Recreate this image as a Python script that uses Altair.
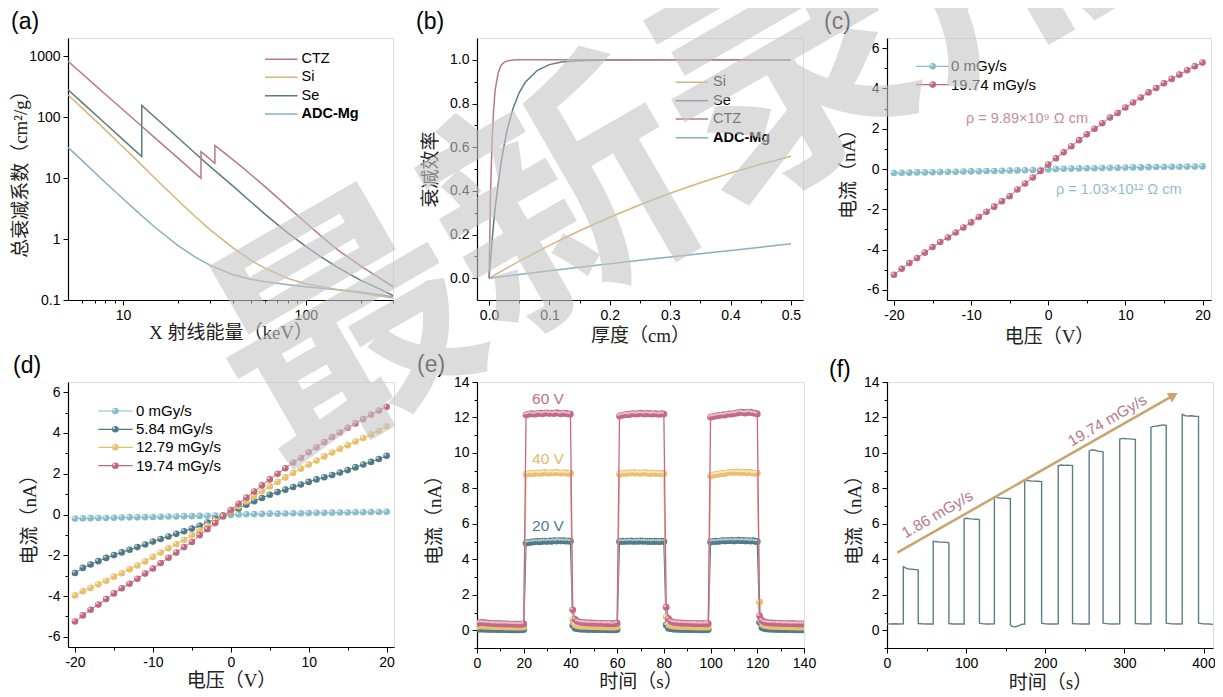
import altair as alt
import pandas as pd

# ---------------- data ----------------
# (a) total attenuation coefficient (cm2/g) vs X-ray energy (keV)
CTZ_E = [5, 6, 7, 8, 10, 12, 15, 20, 26.7, 26.7, 28, 30, 31.8, 31.8, 35, 40, 45, 50, 60, 70, 80, 90, 100, 120, 150, 200, 250, 300]
CTZ_MU = [827, 512, 340, 239, 133, 82, 45.5, 21.3, 9.9, 27.4, 24.3, 20.4, 17.6, 34.4, 27.5, 20, 15, 11.5, 7.2, 4.8, 3.35, 2.45, 1.85, 1.15, 0.66, 0.36, 0.235, 0.165]
SE_E = [5, 6, 8, 10, 12.66, 12.66, 15, 20, 25, 30, 40, 50, 60, 80, 100, 120, 150, 200, 250, 300]
SE_MU = [283, 172, 79, 43, 22.7, 156, 99, 46, 25.2, 15.5, 7.4, 4.1, 2.55, 1.25, 0.76, 0.52, 0.34, 0.21, 0.155, 0.118]
SI_E = [5, 6, 8, 10, 12, 15, 20, 25, 30, 40, 50, 60, 80, 100, 150, 200, 300]
SI_MU = [234, 140, 62, 32.5, 19.2, 9.9, 4.3, 2.3, 1.42, 0.72, 0.45, 0.33, 0.225, 0.185, 0.148, 0.13, 0.108]
ADC_E = [5, 6, 8, 10, 12, 15, 20, 25, 30, 40, 50, 60, 80, 100, 150, 200, 300]
ADC_MU = [32, 19.2, 8.5, 4.6, 2.8, 1.55, 0.78, 0.5, 0.37, 0.26, 0.22, 0.2, 0.178, 0.165, 0.148, 0.135, 0.113]

# (b) attenuation efficiency vs thickness (cm)
B_X1 = [0, 0.0025, 0.005, 0.0075, 0.01, 0.015, 0.02, 0.025, 0.03, 0.04, 0.05, 0.06, 0.08, 0.1, 0.12, 0.15, 0.2, 0.3, 0.4, 0.5]
CTZ_B = [0, 0.4, 0.63, 0.77, 0.86, 0.94, 0.975, 0.988, 0.995, 0.999, 1, 1, 1, 1, 1, 1, 1, 1, 1, 1]
SE_B = [0, 0.09, 0.17, 0.25, 0.32, 0.43, 0.53, 0.61, 0.68, 0.78, 0.85, 0.898, 0.952, 0.978, 0.99, 0.996, 0.999, 1, 1, 1]
B_X2 = [0, 0.05, 0.1, 0.15, 0.2, 0.25, 0.3, 0.35, 0.4, 0.45, 0.5]
SI_B = [0, 0.078, 0.15, 0.217, 0.279, 0.336, 0.389, 0.437, 0.482, 0.522, 0.558]
ADC_B = [0, 0.017, 0.034, 0.05, 0.066, 0.082, 0.097, 0.112, 0.127, 0.142, 0.158]

# (c)/(d) I-V curves
V = [-20, -19, -18, -17, -16, -15, -14, -13, -12, -11, -10, -9, -8, -7, -6, -5, -4, -3, -2, -1, 0,
     1, 2, 3, 4, 5, 6, 7, 8, 9, 10, 11, 12, 13, 14, 15, 16, 17, 18, 19, 20]
I_0 = [-0.20, -0.19, -0.18, -0.17, -0.17, -0.16, -0.15, -0.14, -0.14, -0.13, -0.12, -0.11, -0.10, -0.10, -0.09, -0.08, -0.07, -0.06, -0.05, -0.04, -0.02,
       0.00, 0.01, 0.02, 0.03, 0.04, 0.04, 0.05, 0.06, 0.06, 0.07, 0.08, 0.08, 0.09, 0.10, 0.10, 0.11, 0.11, 0.12, 0.12, 0.13]
I_584 = [-2.87, -2.62, -2.45, -2.29, -2.13, -1.99, -1.86, -1.73, -1.60, -1.47, -1.33, -1.20, -1.08, -0.95, -0.82, -0.69, -0.55, -0.39, -0.22, -0.05, 0.12,
         0.30, 0.48, 0.65, 0.81, 0.97, 1.10, 1.22, 1.35, 1.47, 1.60, 1.72, 1.83, 1.94, 2.06, 2.18, 2.31, 2.45, 2.58, 2.72, 2.88]
I_1279 = [-3.97, -3.76, -3.60, -3.42, -3.25, -3.05, -2.88, -2.68, -2.50, -2.30, -2.08, -1.87, -1.66, -1.45, -1.24, -1.01, -0.78, -0.55, -0.32, -0.08, 0.15,
          0.40, 0.65, 0.90, 1.14, 1.38, 1.60, 1.82, 2.04, 2.25, 2.45, 2.65, 2.85, 3.04, 3.22, 3.40, 3.58, 3.75, 3.93, 4.11, 4.33]
I_1974 = [-5.25, -4.95, -4.67, -4.42, -4.15, -3.87, -3.62, -3.40, -3.15, -2.90, -2.65, -2.38, -2.12, -1.87, -1.60, -1.35, -1.02, -0.72, -0.42, -0.10, 0.22,
          0.53, 0.83, 1.13, 1.43, 1.72, 2.00, 2.27, 2.55, 2.78, 3.05, 3.30, 3.55, 3.80, 4.02, 4.25, 4.47, 4.68, 4.90, 5.10, 5.28]

# (e) on/off response at 20, 40, 60 V (1 s sampling)
E_T = list(range(141))
E_60 = [0.40, 0.42, 0.44, 0.43, 0.41, 0.40, 0.39, 0.38, 0.38, 0.37, 0.37, 0.36, 0.36, 0.36, 0.35, 0.35, 0.35, 0.34, 0.34, 0.34, 0.36,
        12.15, 12.18, 12.22, 12.20, 12.19, 12.23, 12.25, 12.21, 12.24, 12.26, 12.23, 12.25, 12.22, 12.27, 12.24, 12.21, 12.25, 12.23, 12.20, 12.19,
        1.15, 0.62, 0.50, 0.46, 0.44, 0.43, 0.42, 0.41, 0.41, 0.40, 0.40, 0.39, 0.39, 0.39, 0.38, 0.38, 0.38, 0.37, 0.37, 0.40,
        12.08, 12.12, 12.15, 12.18, 12.16, 12.20, 12.22, 12.19, 12.21, 12.24, 12.22, 12.20, 12.23, 12.21, 12.19, 12.22, 12.20, 12.18, 12.21, 12.19,
        1.30, 0.65, 0.50, 0.45, 0.43, 0.42, 0.41, 0.40, 0.40, 0.39, 0.39, 0.38, 0.38, 0.38, 0.37, 0.37, 0.37, 0.36, 0.38,
        12.02, 12.05, 12.08, 12.10, 12.12, 12.15, 12.14, 12.18, 12.20, 12.19, 12.22, 12.24, 12.27, 12.30, 12.28, 12.25, 12.28, 12.30, 12.26, 12.24, 12.20,
        0.80, 0.55, 0.47, 0.44, 0.42, 0.41, 0.40, 0.40, 0.39, 0.39, 0.38, 0.38, 0.38, 0.37, 0.37, 0.37, 0.36, 0.36, 0.36, 0.36]
E_40 = [0.22, 0.24, 0.25, 0.24, 0.23, 0.22, 0.22, 0.21, 0.21, 0.20, 0.20, 0.20, 0.19, 0.19, 0.19, 0.19, 0.18, 0.18, 0.18, 0.18, 0.19,
        8.80, 8.82, 8.85, 8.84, 8.86, 8.88, 8.85, 8.87, 8.90, 8.88, 8.86, 8.89, 8.87, 8.90, 8.88, 8.86, 8.89, 8.87, 8.85, 8.86,
        0.60, 0.32, 0.26, 0.24, 0.23, 0.22, 0.22, 0.21, 0.21, 0.20, 0.20, 0.20, 0.19, 0.19, 0.19, 0.19, 0.18, 0.18, 0.18, 0.20,
        8.80, 8.84, 8.86, 8.85, 8.88, 8.87, 8.90, 8.86, 8.88, 8.85, 8.87, 8.89, 8.86, 8.84, 8.87, 8.85, 8.86, 8.84, 8.85, 8.83,
        0.75, 0.35, 0.27, 0.24, 0.23, 0.22, 0.21, 0.21, 0.20, 0.20, 0.20, 0.19, 0.19, 0.19, 0.18, 0.18, 0.18, 0.18, 0.19,
        8.72, 8.75, 8.78, 8.80, 8.82, 8.85, 8.84, 8.88, 8.90, 8.92, 8.90, 8.93, 8.91, 8.89, 8.92, 8.90, 8.88, 8.90, 8.87, 8.85, 8.86,
        1.60, 0.45, 0.30, 0.26, 0.24, 0.23, 0.22, 0.22, 0.21, 0.21, 0.20, 0.20, 0.20, 0.19, 0.19, 0.19, 0.18, 0.18, 0.18, 0.18]
E_20 = [0.06, 0.07, 0.07, 0.06, 0.06, 0.05, 0.05, 0.05, 0.05, 0.04, 0.04, 0.04, 0.04, 0.04, 0.03, 0.03, 0.03, 0.03, 0.03, 0.03, 0.04,
        4.92, 4.95, 4.97, 4.98, 5.00, 5.01, 4.99, 5.02, 5.03, 5.01, 5.04, 5.02, 5.05, 5.03, 5.06, 5.04, 5.05, 5.03, 5.04, 5.02,
        0.28, 0.12, 0.09, 0.07, 0.06, 0.06, 0.05, 0.05, 0.05, 0.05, 0.04, 0.04, 0.04, 0.04, 0.04, 0.03, 0.03, 0.03, 0.03, 0.04,
        5.00, 5.02, 5.01, 5.03, 5.02, 5.04, 5.01, 5.03, 5.02, 5.04, 5.02, 5.03, 5.01, 5.02, 5.00, 5.02, 5.01, 5.00, 5.02, 5.01,
        0.30, 0.12, 0.09, 0.07, 0.06, 0.06, 0.05, 0.05, 0.05, 0.04, 0.04, 0.04, 0.04, 0.04, 0.03, 0.03, 0.03, 0.03, 0.04,
        4.98, 5.00, 5.02, 5.01, 5.03, 5.05, 5.04, 5.06, 5.05, 5.07, 5.04, 5.06, 5.08, 5.05, 5.07, 5.04, 5.06, 5.03, 5.05, 5.02, 5.00,
        0.45, 0.15, 0.10, 0.08, 0.07, 0.06, 0.06, 0.05, 0.05, 0.05, 0.04, 0.04, 0.04, 0.04, 0.04, 0.03, 0.03, 0.03, 0.03, 0.03]

# (f) response to increasing dose rate
F_T = [0, 5, 10, 15, 20.6,
       20.6, 24, 28, 32, 36, 39.5,
       39.5, 45, 50, 55, 58.4,
       58.4, 62, 66, 70, 74, 78.2,
       78.2, 84, 90, 97.5,
       97.5, 101, 105, 109, 113, 116.8,
       116.8, 122, 128, 135.7,
       135.7, 139, 143, 147, 151, 155.9,
       155.9, 158, 162, 166, 170, 174,
       174, 178, 182, 186, 190, 195.4,
       195.4, 200, 206, 212, 216.4,
       216.4, 220, 224, 228, 232, 234.5,
       234.5, 240, 246, 250, 255.5,
       255.5, 259, 263, 267, 271, 273.1,
       273.1, 280, 287, 294.1,
       294.1, 298, 302, 306, 310, 313.9,
       313.9, 320, 327, 333.6,
       333.6, 337, 341, 345, 349, 352.9,
       352.9, 360, 367, 373.1,
       373.1, 377, 381, 385, 389, 393.7,
       393.7, 400, 407, 412]
F_I = [0.36, 0.35, 0.37, 0.35, 0.36,
       3.58, 3.50, 3.45, 3.44, 3.42, 3.40,
       0.38, 0.36, 0.35, 0.36, 0.35,
       5.02, 5.00, 4.98, 4.97, 4.96, 4.93,
       0.38, 0.35, 0.36, 0.35,
       6.30, 6.32, 6.28, 6.27, 6.26, 6.24,
       0.40, 0.36, 0.35, 0.36,
       7.52, 7.48, 7.46, 7.45, 7.44, 7.42,
       0.30, 0.22, 0.20, 0.25, 0.33, 0.35,
       8.45, 8.44, 8.42, 8.41, 8.40, 8.38,
       0.40, 0.36, 0.35, 0.35, 0.36,
       9.28, 9.32, 9.30, 9.31, 9.30, 9.28,
       0.38, 0.36, 0.35, 0.36, 0.35,
       10.10, 10.18, 10.15, 10.10, 10.08, 10.05,
       0.40, 0.36, 0.35, 0.36,
       10.78, 10.82, 10.80, 10.79, 10.78, 10.76,
       0.38, 0.36, 0.35, 0.36,
       11.45, 11.50, 11.52, 11.55, 11.58, 11.55,
       0.40, 0.36, 0.35, 0.36,
       12.18, 12.10, 12.08, 12.10, 12.07, 12.06,
       0.40, 0.36, 0.35, 0.33]

# ---------------- style ----------------
SANS = "Liberation Sans"
TFONT = "Liberation Serif, Noto Sans CJK SC"
CJK = "Noto Sans CJK SC"

C_CTZ, C_SI, C_SE, C_ADC = "#b67a8a", "#d6b57c", "#5b7b86", "#88b0bf"
C_0, C_584, C_1279, C_1974 = "#86bccb", "#4e7a87", "#e9bf6b", "#c2667f"

ONE = pd.DataFrame({"k": [0]})


def table(xs, ys):
    return pd.DataFrame({"x": xs, "y": ys, "i": list(range(len(xs)))})


AX = dict(grid=False, domainColor="#000", domainWidth=1.2, tickColor="#000", tickWidth=1,
          labelFont=SANS, labelFontSize=14, labelColor="#000", labelPadding=3,
          labelFlush=False, labelOverlap=False, titleFont=TFONT, titleFontSize=19,
          titleFontWeight="normal", titleColor="#222", minExtent=0, maxExtent=0)


def axis(values, major, label, title, tpad):
    return alt.Axis(values=values, labelExpr=f"({major}) ? {label} : ''",
                    tickSize={"condition": {"test": major, "value": 5}, "value": 3},
                    title=title, titlePadding=tpad, **AX)


def line(d, X, Y, color, w=1.5):
    return alt.Chart(d).mark_line(color=color, strokeWidth=w, clip=True).encode(x=X, y=Y, order="i:Q")


def dots(d, X, Y, color, size=44):
    base = alt.Chart(d).mark_circle(color=color, size=size, opacity=1, clip=True).encode(x=X, y=Y)
    hi = alt.Chart(d).mark_circle(color="white", size=6, opacity=0.6, xOffset=-1.3, yOffset=-1.3,
                                  clip=True).encode(x=X, y=Y)
    return [base, hi]


def vtext(x, y, s, color="#000", size=14, align="left", baseline="middle", angle=0,
          weight="normal", font=SANS, opacity=1):
    return alt.Chart(ONE).mark_text(text=s, color=color, fontSize=size, align=align, baseline=baseline,
                                    angle=angle, fontWeight=weight, font=font, opacity=opacity
                                    ).encode(x=alt.value(x), y=alt.value(y))


def vrule(x1, y1, x2, y2, color, w=1.5):
    return alt.Chart(ONE).mark_rule(color=color, strokeWidth=w).encode(
        x=alt.value(x1), y=alt.value(y1), x2=alt.value(x2), y2=alt.value(y2))


def vpoint(x, y, color, size, shape="circle", angle=0, opacity=1):
    return alt.Chart(ONE).mark_point(filled=True, shape=shape, size=size, angle=angle, color=color,
                                     opacity=opacity, strokeWidth=0).encode(x=alt.value(x), y=alt.value(y))


def line_legend(rows, x1, x2, xt, names, colors, bold=None, size=14.5):
    out = []
    for y, n, c in zip(rows, names, colors):
        out.append(vrule(x1, y, x2, y, c))
        out.append(vtext(xt, y, n, size=size, weight="bold" if n == bold else "normal"))
    return out


def dot_legend(rows, x1, x2, xc, xt, names, colors, size=15):
    out = []
    for y, n, c in zip(rows, names, colors):
        out.append(vrule(x1, y, x2, y, c, 1.2))
        out.append(vpoint(xc, y, c, 44))
        out.append(vpoint(xc - 1.3, y - 1.3, "white", 6, opacity=0.6))
        out.append(vtext(xt, y, n, size=size))
    return out


def panel_label(x, y, s):
    return vtext(x, y, s, size=23, baseline="alphabetic")


# ---------------- (a) ----------------
XA = alt.X("x:Q", scale=alt.Scale(type="log", domain=[5, 300], nice=False),
           axis=axis([6, 7, 8, 9, 10, 20, 30, 40, 50, 60, 70, 80, 90, 100, 200, 300],
                     "datum.value == 10 || datum.value == 100", "'' + datum.value",
                     "X 射线能量（keV）", 23))
YA = alt.Y("y:Q", scale=alt.Scale(type="log", domain=[0.1, 2000], nice=False),
           axis=axis([0.1, 1, 10, 100, 1000], "true", "'' + datum.value", "总衰减系数（cm²/g）", 38))
pa = alt.layer(
    line(table(ADC_E, ADC_MU), XA, YA, C_ADC),
    line(table(SI_E, SI_MU), XA, YA, C_SI),
    line(table(SE_E, SE_MU), XA, YA, C_SE),
    line(table(CTZ_E, CTZ_MU), XA, YA, C_CTZ),
    *line_legend([21.3, 39.3, 57.7, 76], 197, 229.5, 233.5, ["CTZ", "Si", "Se", "ADC-Mg"],
                 [C_CTZ, C_SI, C_SE, C_ADC], bold="ADC-Mg"),
    panel_label(-57, -9, "(a)"),
).properties(width=325, height=262)

# ---------------- (b) ----------------
XB = alt.X("x:Q", scale=alt.Scale(domain=[-0.02, 0.52], nice=False, zero=False),
           axis=axis([0, 0.05, 0.1, 0.15, 0.2, 0.25, 0.3, 0.35, 0.4, 0.45, 0.5],
                     "round(datum.value * 100) % 10 == 0", "format(datum.value, '.1f')", "厚度（cm）", 26))
YB = alt.Y("y:Q", scale=alt.Scale(domain=[-0.1, 1.1], nice=False, zero=False),
           axis=axis([0, 0.1, 0.2, 0.3, 0.4, 0.5, 0.6, 0.7, 0.8, 0.9, 1.0],
                     "round(datum.value * 10) % 2 == 0", "format(datum.value, '.1f')", "衰减效率", 37))
pb = alt.layer(
    line(table(B_X2, SI_B), XB, YB, C_SI),
    line(table(B_X2, ADC_B), XB, YB, C_ADC),
    line(table(B_X1, SE_B), XB, YB, C_SE),
    line(table(B_X1, CTZ_B), XB, YB, C_CTZ),
    *line_legend([44.3, 62.7, 81, 99.7], 198.7, 231, 236, ["Si", "Se", "CTZ", "ADC-Mg"],
                 [C_SI, C_SE, C_CTZ, C_ADC], bold="ADC-Mg"),
    panel_label(-61, -9, "(b)"),
).properties(width=326, height=262)

# ---------------- (c) ----------------
XC = alt.X("x:Q", scale=alt.Scale(domain=[-20.9, 21.1], nice=False, zero=False),
           axis=axis([-20, -15, -10, -5, 0, 5, 10, 15, 20], "datum.value % 10 == 0", "'' + datum.value",
                     "电压（V）", 27))
YC = alt.Y("y:Q", scale=alt.Scale(domain=[-6.5, 6.5], nice=False, zero=False),
           axis=axis([-6, -5, -4, -3, -2, -1, 0, 1, 2, 3, 4, 5, 6], "datum.value % 2 == 0", "'' + datum.value",
                     "电流（nA）", 29))
dc0, dc1 = table(V, I_0), table(V, I_1974)
pc = alt.layer(
    line(dc0, XC, YC, C_0, 1), *dots(dc0, XC, YC, C_0),
    line(dc1, XC, YC, C_1974, 1), *dots(dc1, XC, YC, C_1974),
    *dot_legend([28.3, 46.6], 29, 61.7, 45.7, 64, ["0 mGy/s", "19.74 mGy/s"], [C_0, C_1974]),
    vtext(79, 81, "ρ = 9.89×10⁹ Ω cm", color="#c48d9c", size=14.5),
    vtext(169, 152, "ρ = 1.03×10¹² Ω cm", color="#94bccb", size=14.5),
    panel_label(-63, -9, "(c)"),
).properties(width=324, height=262)

# ---------------- (d) ----------------
XD = alt.X("x:Q", scale=alt.Scale(domain=[-20.9, 20.95], nice=False, zero=False),
           axis=axis([-20, -15, -10, -5, 0, 5, 10, 15, 20], "datum.value % 10 == 0", "'' + datum.value",
                     "电压（V）", 24))
YD = alt.Y("y:Q", scale=alt.Scale(domain=[-6.5, 6.5], nice=False, zero=False),
           axis=axis([-6, -5, -4, -3, -2, -1, 0, 1, 2, 3, 4, 5, 6], "datum.value % 2 == 0", "'' + datum.value",
                     "电流（nA）", 28.5))
dd = [(table(V, I_0), C_0), (table(V, I_584), C_584), (table(V, I_1279), C_1279), (table(V, I_1974), C_1974)]
layers_d = []
for d_, c_ in dd:
    layers_d.append(line(d_, XD, YD, c_, 1))
    layers_d.extend(dots(d_, XD, YD, c_))
pd_ = alt.layer(
    *layers_d,
    *dot_legend([29, 47.3, 65.3, 83.7], 30.3, 64.7, 47.3, 68,
                ["0 mGy/s", "5.84 mGy/s", "12.79 mGy/s", "19.74 mGy/s"], [C_0, C_584, C_1279, C_1974]),
    panel_label(-55, -9, "(d)"),
).properties(width=326, height=265)

# ---------------- (e) ----------------
XE = alt.X("x:Q", scale=alt.Scale(domain=[0, 140], nice=False, zero=False),
           axis=axis(list(range(0, 141, 10)), "datum.value % 20 == 0", "'' + datum.value", "时间（s）", 24))
YE = alt.Y("y:Q", scale=alt.Scale(domain=[-1, 14], nice=False, zero=False),
           axis=axis(list(range(-1, 15)), "datum.value % 2 == 0", "'' + datum.value", "电流（nA）", 32.5))
C_E20, C_E40, C_E60 = "#4f7c88", "#e8c06f", "#c4698a"
layers_e = []
for ys, c_ in [(E_20, C_E20), (E_40, C_E40), (E_60, C_E60)]:
    d_ = table(E_T, ys)
    layers_e.append(line(d_, XE, YE, c_, 1.3))
    layers_e.extend(dots(d_, XE, YE, c_, size=46))
pe = alt.layer(
    *layers_e,
    vtext(71, 17, "60 V", color="#c0708a", size=15.5, align="center"),
    vtext(71, 77.3, "40 V", color="#e2bb6c", size=15.5, align="center"),
    vtext(71, 144, "20 V", color="#4f7b88", size=15.5, align="center"),
    panel_label(-60, -10, "(e)"),
).properties(width=327, height=266)

# ---------------- (f) ----------------
XF = alt.X("x:Q", scale=alt.Scale(domain=[0, 412], nice=False, zero=False),
           axis=axis([0, 50, 100, 150, 200, 250, 300, 350, 400], "datum.value % 100 == 0", "'' + datum.value",
                     "时间（s）", 25))
YF = alt.Y("y:Q", scale=alt.Scale(domain=[-1, 14], nice=False, zero=False),
           axis=axis(list(range(-1, 15)), "datum.value % 2 == 0", "'' + datum.value", "电流（nA）", 22.5))
pf = alt.layer(
    line(table(F_T, F_I), XF, YF, "#5e7e89", 1.4),
    vrule(10.3, 170.7, 286.5, 13.3, "#c9a46c", 2.5),
    vpoint(286.5, 13.3, "#c9a46c", 120, shape="triangle-right", angle=330.3),
    vtext(50.3, 132.3, "1.86 mGy/s", color="#b9788c", size=15.5, align="center", angle=330),
    vtext(220.3, 38.5, "19.74 mGy/s", color="#b9788c", size=15.5, align="center", angle=330),
    panel_label(-58, -5, "(f)"),
    # publisher watermark drawn on top of everything
    vtext(-207, -236, "最新录用", color="#c5c5c5", size=255, align="center", angle=330,
          weight="bold", font=CJK, opacity=0.6),
).properties(width=326, height=266)

chart = alt.concat(
    pa, pb, pc, pd_, pe, pf, columns=3,
    spacing={"row": 82, "column": 83}, bounds="flush", align="each",
).properties(
    autosize=alt.AutoSizeParams(type="none"),
    padding={"left": 60, "top": 30, "right": 1147, "bottom": 655},
).configure_view(stroke="#000", strokeWidth=1.2).configure(background="white")

chart.save("out.html", embed_options={"renderer": "svg", "actions": False})
